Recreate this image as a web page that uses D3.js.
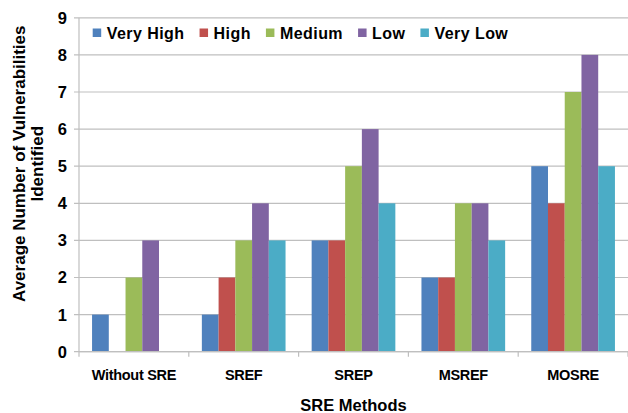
<!DOCTYPE html>
<html>
<head>
<meta charset="utf-8">
<script src="https://cdn.jsdelivr.net/npm/d3@7"></script>
<style>
  html, body { margin: 0; padding: 0; background: #fff; }
  svg { display: block; font-family: "Liberation Sans", Arial, sans-serif; }
</style>
</head>
<body>
<svg id="chart" width="628" height="413"></svg>
<script>
const categories = ["Without SRE", "SREF", "SREP", "MSREF", "MOSRE"];
const seriesNames = ["Very High", "High", "Medium", "Low", "Very Low"];
const veryHigh = [1, 1, 3, 2, 5];
const high     = [0, 2, 3, 2, 4];
const medium   = [2, 3, 5, 4, 7];
const low      = [3, 4, 6, 4, 8];
const veryLow  = [0, 3, 4, 3, 5];
const yTicks = [0, 1, 2, 3, 4, 5, 6, 7, 8, 9];
const colors = ["#4F81BD", "#C0504D", "#9BBB59", "#8064A2", "#4BACC6"];

const seriesValues = [veryHigh, high, medium, low, veryLow];

const svg = d3.select("#chart");
const plotLeft = 79, plotRight = 628, plotTop = 17.8, plotBottom = 351.7;

const x = d3.scaleBand().domain(categories).range([plotLeft, plotRight]).paddingInner(0).paddingOuter(0);
const xs = d3.scaleBand().domain(seriesNames).range([0, x.bandwidth()]).paddingInner(0).paddingOuter(0.78);
const y = d3.scaleLinear().domain([0, 9]).range([plotBottom, plotTop]);

const gridColor = "#BFBFBF";

// gridlines
svg.append("g")
  .selectAll("line")
  .data(yTicks)
  .join("line")
  .attr("x1", plotLeft - 5).attr("x2", plotRight)
  .attr("y1", d => y(d)).attr("y2", d => y(d))
  .attr("stroke", gridColor).attr("stroke-width", 1.2);

// y axis line
svg.append("line")
  .attr("x1", plotLeft).attr("x2", plotLeft).attr("y1", plotTop).attr("y2", plotBottom)
  .attr("stroke", gridColor).attr("stroke-width", 1.2);

// bars
const data = [];
categories.forEach((c, i) => {
  seriesNames.forEach((s, j) => data.push({ cat: c, series: s, value: seriesValues[j][i], color: colors[j] }));
});
svg.append("g")
  .selectAll("rect")
  .data(data)
  .join("rect")
  .attr("x", d => x(d.cat) + xs(d.series))
  .attr("width", xs.bandwidth())
  .attr("y", d => y(d.value))
  .attr("height", d => y(0) - y(d.value))
  .attr("fill", d => d.color);

// x axis line and ticks
svg.append("line")
  .attr("x1", plotLeft).attr("x2", plotRight).attr("y1", plotBottom).attr("y2", plotBottom)
  .attr("stroke", gridColor).attr("stroke-width", 1.2);
const boundaries = categories.map(c => x(c)).concat([x(categories[categories.length - 1]) + x.bandwidth()]);
svg.append("g")
  .selectAll("line")
  .data(boundaries)
  .join("line")
  .attr("x1", d => d).attr("x2", d => d)
  .attr("y1", plotBottom).attr("y2", plotBottom + 5)
  .attr("stroke", gridColor).attr("stroke-width", 1.2);

// y tick labels
svg.append("g")
  .selectAll("text")
  .data(yTicks)
  .join("text")
  .attr("x", plotLeft - 12)
  .attr("y", d => y(d))
  .attr("dy", "0.36em")
  .attr("text-anchor", "end")
  .attr("font-size", 16.5)
  .attr("font-weight", "bold")
  .attr("fill", "#000")
  .text(d => d);

// x category labels
svg.append("g")
  .selectAll("text")
  .data(categories)
  .join("text")
  .attr("x", d => x(d) + x.bandwidth() / 2)
  .attr("y", 380)
  .attr("text-anchor", "middle")
  .attr("font-size", 14.5)
  .attr("font-weight", "bold")
  .attr("letter-spacing", -0.3)
  .attr("fill", "#000")
  .text(d => d);

// x axis title
svg.append("text")
  .attr("x", (plotLeft + plotRight) / 2)
  .attr("y", 411)
  .attr("text-anchor", "middle")
  .attr("font-size", 16.5)
  .attr("font-weight", "bold")
  .attr("fill", "#000")
  .text("SRE Methods");

// y axis title (two lines)
const yt = svg.append("text")
  .attr("transform", `translate(0, ${(plotTop + plotBottom) / 2}) rotate(-90)`)
  .attr("text-anchor", "middle")
  .attr("font-size", 17)
  .attr("font-weight", "bold")
  .attr("fill", "#000");
yt.append("tspan").attr("x", 21).attr("y", 25).text("Average Number of Vulnerabilities");
yt.append("tspan").attr("x", 21).attr("y", 43).text("Identified");

// legend
const legend = svg.append("g");
let lx = 92.7;
seriesNames.forEach((s, j) => {
  legend.append("rect")
    .attr("x", lx).attr("y", 28.5).attr("width", 8.5).attr("height", 8.5)
    .attr("fill", colors[j]);
  const t = legend.append("text")
    .attr("x", lx + 14).attr("y", 38.5)
    .attr("font-size", 16)
    .attr("font-weight", "bold")
    .attr("letter-spacing", 0.45)
    .attr("fill", "#000")
    .text(s);
  lx = lx + 14 + t.node().getComputedTextLength() + 15;
});
</script>
</body>
</html>
